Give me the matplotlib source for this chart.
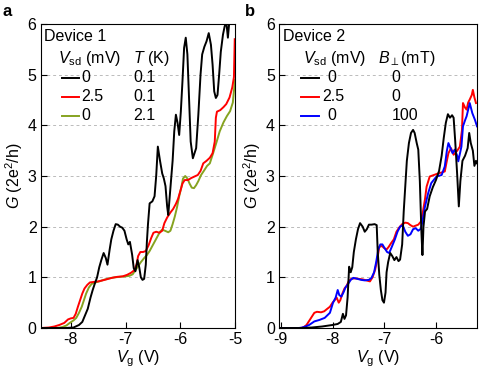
import matplotlib
matplotlib.use("Agg")
import matplotlib.pyplot as plt

plt.rcParams["font.family"] = ["Liberation Sans", "DejaVu Sans"]
plt.rcParams["mathtext.fontset"] = "custom"
plt.rcParams["mathtext.rm"] = "Liberation Sans"
plt.rcParams["mathtext.it"] = "Liberation Sans:italic"
plt.rcParams["mathtext.bf"] = "Liberation Sans:bold"

# ---- panel a: Device 1 ----
va_black = [-8.55, -8.10, -7.95, -7.91, -7.85, -7.79, -7.74, -7.69, -7.64, -7.60,
            -7.56, -7.52, -7.48, -7.44, -7.40, -7.36, -7.33, -7.29, -7.26, -7.22,
            -7.18, -7.14, -7.10, -7.06, -7.02, -6.98, -6.95, -6.92, -6.88, -6.85,
            -6.82, -6.78, -6.75, -6.72, -6.69, -6.66, -6.63, -6.61, -6.59, -6.56,
            -6.51, -6.47, -6.44, -6.41, -6.37, -6.33, -6.30, -6.27, -6.24, -6.22,
            -6.20, -6.17, -6.14, -6.11, -6.08, -6.05, -6.02, -5.99, -5.96, -5.93,
            -5.90, -5.87, -5.84, -5.81, -5.77, -5.74, -5.71, -5.67, -5.63, -5.60,
            -5.56, -5.52, -5.48, -5.44, -5.41, -5.38, -5.35, -5.32, -5.29, -5.26,
            -5.22, -5.19, -5.16, -5.13, -5.10, -5.07]
ga_black = [0.0, 0.0, 0.01, 0.03, 0.06, 0.12, 0.25, 0.38, 0.60, 0.75,
            0.88, 1.00, 1.20, 1.35, 1.48, 1.38, 1.25, 1.55, 1.75, 1.92,
            2.05, 2.04, 2.00, 1.98, 1.92, 1.75, 1.65, 1.70, 1.45, 1.18,
            1.12, 1.34, 1.20, 1.00, 0.95, 0.97, 1.25, 1.70, 2.05, 2.46,
            2.50, 2.60, 3.00, 3.58, 3.30, 3.05, 2.95, 2.80, 2.40, 2.23,
            2.50, 2.90, 3.30, 3.88, 4.21, 4.05, 3.81, 4.27, 4.87, 5.53,
            5.73, 5.40, 4.54, 3.68, 3.35, 3.45, 3.55, 4.21, 5.00, 5.40,
            5.55, 5.66, 5.82, 5.59, 5.20, 4.67, 4.54, 4.60, 5.00, 5.45,
            5.79, 5.95, 6.05, 5.73, 6.10, 6.30]

va_red = [-8.55, -8.40, -8.30, -8.21, -8.12, -8.05, -8.00, -7.95, -7.91, -7.87,
          -7.83, -7.79, -7.75, -7.70, -7.65, -7.58, -7.50, -7.42, -7.35, -7.25,
          -7.15, -7.05, -6.97, -6.90, -6.84, -6.80, -6.77, -6.73, -6.68, -6.63,
          -6.58, -6.53, -6.49, -6.44, -6.38, -6.33, -6.29, -6.24, -6.18, -6.13,
          -6.08, -6.04, -6.00, -5.96, -5.92, -5.86, -5.80, -5.74, -5.68, -5.63,
          -5.58, -5.52, -5.46, -5.41, -5.37, -5.35, -5.33, -5.27, -5.21, -5.16,
          -5.10, -5.05, -5.02, -5.005]
ga_red = [0.0, 0.01, 0.03, 0.06, 0.10, 0.17, 0.19, 0.20, 0.28, 0.42,
          0.55, 0.68, 0.78, 0.85, 0.90, 0.91, 0.92, 0.94, 0.96, 0.99,
          1.01, 1.02, 1.05, 1.09, 1.14, 1.25, 1.42, 1.50, 1.50, 1.52,
          1.63, 1.78, 1.88, 1.90, 1.88, 1.92, 2.07, 2.18, 2.28, 2.35,
          2.45, 2.55, 2.70, 2.85, 2.92, 2.92, 2.96, 2.99, 3.02, 3.10,
          3.25, 3.30, 3.36, 3.45, 3.68, 4.15, 4.27, 4.30, 4.36, 4.42,
          4.55, 4.75, 4.95, 5.70]

va_green = [-8.55, -8.25, -8.15, -8.08, -8.02, -7.95, -7.90, -7.85, -7.80, -7.76,
            -7.72, -7.67, -7.62, -7.55, -7.48, -7.40, -7.30, -7.20, -7.10, -7.00,
            -6.93, -6.87, -6.82, -6.77, -6.72, -6.66, -6.61, -6.56, -6.52, -6.47,
            -6.42, -6.37, -6.33, -6.28, -6.22, -6.18, -6.14, -6.10, -6.06, -6.02,
            -5.98, -5.95, -5.91, -5.87, -5.83, -5.79, -5.75, -5.71, -5.67, -5.62,
            -5.57, -5.51, -5.46, -5.40, -5.34, -5.28, -5.21, -5.15, -5.09, -5.04,
            -5.00]
ga_green = [0.0, 0.0, 0.02, 0.05, 0.10, 0.15, 0.20, 0.30, 0.42, 0.55,
            0.68, 0.80, 0.87, 0.90, 0.92, 0.95, 0.98, 1.00, 1.01, 1.02,
            1.03, 1.06, 1.14, 1.22, 1.30, 1.38, 1.44, 1.52, 1.60, 1.70,
            1.80, 1.90, 1.94, 1.92, 1.89, 1.92, 2.05, 2.20, 2.38, 2.60,
            2.78, 2.95, 3.00, 2.95, 2.85, 2.77, 2.76, 2.82, 2.90, 3.02,
            3.10, 3.20, 3.25, 3.45, 3.66, 3.88, 4.06, 4.18, 4.28, 4.45,
            4.90]

# ---- panel b: Device 2 ----
vb_black = [-9.10, -8.60, -8.40, -8.20, -8.00, -7.90, -7.84, -7.80, -7.77, -7.74,
            -7.71, -7.68, -7.65, -7.62, -7.59, -7.55, -7.51, -7.47, -7.42, -7.38,
            -7.34, -7.30, -7.25, -7.19, -7.15, -7.13, -7.10, -7.07, -7.04, -7.01,
            -6.98, -6.96, -6.93, -6.89, -6.85, -6.81, -6.77, -6.73, -6.70, -6.66,
            -6.63, -6.60, -6.57, -6.53, -6.49, -6.45, -6.42, -6.38, -6.35, -6.32,
            -6.29, -6.27, -6.25, -6.22, -6.18, -6.13, -6.07, -6.01, -5.95, -5.90,
            -5.86, -5.82, -5.78, -5.74, -5.70, -5.67, -5.64, -5.60, -5.57, -5.54,
            -5.50, -5.45, -5.40, -5.37, -5.34, -5.30, -5.27, -5.24, -5.22]
gb_black = [0.0, 0.0, 0.01, 0.03, 0.06, 0.08, 0.12, 0.28, 0.18, 0.25,
            0.60, 1.21, 1.10, 1.20, 1.50, 1.75, 1.95, 2.07, 2.00, 1.90,
            1.95, 2.04, 2.04, 2.05, 2.03, 1.50, 1.05, 0.75, 0.55, 0.50,
            0.70, 1.10, 1.30, 1.48, 1.42, 1.34, 1.40, 1.32, 1.35, 1.65,
            2.30, 2.80, 3.30, 3.65, 3.85, 3.91, 3.85, 3.65, 3.52, 2.90,
            1.90, 1.44, 2.00, 2.30, 2.35, 2.60, 2.78, 2.92, 3.10, 3.40,
            3.75, 4.05, 4.22, 4.15, 4.20, 4.15, 3.70, 3.00, 2.40, 2.90,
            3.30, 3.40, 3.55, 3.85, 3.65, 3.50, 3.20, 3.30, 3.25]

vb_red = [-9.10, -8.60, -8.55, -8.50, -8.45, -8.40, -8.35, -8.30, -8.22, -8.16,
          -8.10, -8.05, -8.00, -7.95, -7.92, -7.88, -7.85, -7.81, -7.77, -7.73,
          -7.69, -7.64, -7.57, -7.50, -7.42, -7.35, -7.28, -7.23, -7.18, -7.14,
          -7.10, -7.05, -7.01, -6.96, -6.92, -6.87, -6.82, -6.77, -6.72, -6.66,
          -6.60, -6.55, -6.50, -6.45, -6.40, -6.35, -6.30, -6.26, -6.22, -6.19,
          -6.13, -6.05, -5.97, -5.90, -5.84, -5.80, -5.77, -5.72, -5.67, -5.60,
          -5.55, -5.51, -5.49, -5.45, -5.42, -5.39, -5.36, -5.32, -5.30, -5.27,
          -5.24]
gb_red = [0.0, 0.0, 0.02, 0.06, 0.14, 0.22, 0.30, 0.32, 0.31, 0.33,
          0.38, 0.42, 0.50, 0.56, 0.60, 0.50, 0.55, 0.68, 0.78, 0.83,
          0.92, 0.97, 0.98, 0.97, 0.96, 0.94, 0.92, 1.00, 1.15, 1.35,
          1.60, 1.62, 1.58, 1.55, 1.60, 1.68, 1.75, 1.90, 1.98, 2.05,
          2.08, 2.07, 2.03, 2.00, 2.02, 2.04, 2.10, 2.30, 2.55, 2.79,
          2.99, 3.02, 3.05, 3.07, 3.09, 3.30, 3.45, 3.55, 3.42, 3.50,
          3.58, 3.90, 4.44, 4.35, 4.31, 4.45, 4.51, 4.60, 4.70, 4.55,
          4.44]

vb_blue = [-9.10, -8.65, -8.58, -8.52, -8.45, -8.35, -8.25, -8.15, -8.05, -7.99,
           -7.94, -7.90, -7.87, -7.83, -7.79, -7.75, -7.70, -7.65, -7.60, -7.52,
           -7.45, -7.38, -7.30, -7.25, -7.20, -7.16, -7.12, -7.08, -7.04, -7.00,
           -6.95, -6.91, -6.86, -6.80, -6.75, -6.70, -6.65, -6.60, -6.55, -6.50,
           -6.45, -6.40, -6.35, -6.30, -6.27, -6.22, -6.16, -6.10, -6.00, -5.90,
           -5.84, -5.80, -5.77, -5.73, -5.69, -5.65, -5.60, -5.58, -5.52, -5.49,
           -5.45, -5.42, -5.38, -5.36, -5.31, -5.26, -5.22]
gb_blue = [0.0, 0.0, 0.01, 0.03, 0.06, 0.13, 0.16, 0.20, 0.30, 0.50,
           0.60, 0.75, 0.65, 0.62, 0.70, 0.80, 0.87, 0.95, 0.99, 0.97,
           0.95, 0.94, 0.95, 0.99, 1.10, 1.30, 1.55, 1.65, 1.65, 1.58,
           1.50, 1.48, 1.60, 1.75, 1.90, 2.00, 2.03, 1.90, 1.82, 1.85,
           1.95, 1.97, 1.92, 1.96, 2.10, 2.40, 2.66, 2.86, 2.99, 3.02,
           3.19, 3.50, 3.65, 3.55, 3.45, 3.52, 3.40, 3.29, 3.58, 3.98,
           4.10, 4.18, 4.35, 4.44, 4.24, 4.11, 3.98]

yticks = [0, 1, 2, 3, 4, 5, 6]
xticks_a = [-8, -7, -6, -5]
xticks_b = [-9, -8, -7, -6]

legend_a = [("0", "0.1", "black"), ("2.5", "0.1", "#ff0000"), ("0", "2.1", "#86a320")]
legend_b = [("0", "0", "black"), ("2.5", "0", "#ff0000"), ("0", "100", "#0000ff")]

FS = 11.5
LW = 1.4


def style_axes(ax, xlim, xticks):
    ax.set_xlim(*xlim)
    ax.set_ylim(0, 6)
    ax.set_xticks(xticks)
    ax.set_xticklabels([str(t) for t in xticks])
    ax.set_yticks(yticks)
    ax.tick_params(direction="in", length=4, width=0.8, labelsize=FS, pad=3)
    for sp in ax.spines.values():
        sp.set_linewidth(0.8)
    ax.yaxis.grid(True, linestyle=(0, (3, 3)), color="#bbbbbb", linewidth=0.7)
    ax.set_axisbelow(True)
    ax.set_xlabel(r"$V_\mathrm{g}$ (V)", fontsize=FS, labelpad=1)
    ax.set_ylabel(r"$G$ (2e$^2$/h)", fontsize=FS, labelpad=2)


def draw_key(ax, title, header1, header2, rows, x_line, x_col1, x_col2, x_h1, x_h2):
    t = ax.transAxes
    ax.text(x_line[0] - 0.09, 0.945, title, transform=t, fontsize=FS, va="baseline")
    ax.text(x_h1, 0.871, header1, transform=t, fontsize=FS, va="baseline")
    ax.text(x_h2, 0.871, header2, transform=t, fontsize=FS, va="baseline")
    ys_base = [0.810, 0.748, 0.684]
    ys_line = [0.821, 0.761, 0.697]
    for (v1, v2, c), yb, yl, xc1 in zip(rows, ys_base, ys_line, x_col1):
        ax.plot(x_line, [yl, yl], color=c, lw=LW, transform=t, clip_on=False)
        ax.text(xc1, yb, v1, transform=t, fontsize=FS, va="baseline")
        ax.text(x_col2, yb, v2, transform=t, fontsize=FS, va="baseline")


fig = plt.figure(figsize=(4.81, 3.75), dpi=100)
ax_a = fig.add_axes([0.0846, 0.1253, 0.404, 0.8107])
ax_b = fig.add_axes([0.580, 0.1253, 0.4117, 0.8107])

ax_a.plot(va_green, ga_green, color="#86a320", lw=LW)
ax_a.plot(va_red, ga_red, color="#ff0000", lw=LW)
ax_a.plot(va_black, ga_black, color="black", lw=LW)
style_axes(ax_a, (-8.55, -5.0), xticks_a)
draw_key(ax_a, "Device 1", r"$V_\mathrm{sd}$ (mV)", r"$T$ (K)", legend_a,
         [0.108, 0.199], [0.211, 0.211, 0.211], 0.477, 0.09, 0.477)

ax_b.plot(vb_red, gb_red, color="#ff0000", lw=LW)
ax_b.plot(vb_blue, gb_blue, color="#0000ff", lw=LW)
ax_b.plot(vb_black, gb_black, color="black", lw=LW)
style_axes(ax_b, (-9.03, -5.22), xticks_b)
draw_key(ax_b, "Device 2", r"$V_\mathrm{sd}$ (mV)", r"$B_{\perp}$(mT)", legend_b,
         [0.111, 0.204], [0.244, 0.216, 0.244], 0.569, 0.123, 0.502)

fig.text(0.006, 0.988, "a", fontsize=12, fontweight="bold", va="top")
fig.text(0.510, 0.988, "b", fontsize=12, fontweight="bold", va="top")

fig.savefig("out.png", dpi=100)
